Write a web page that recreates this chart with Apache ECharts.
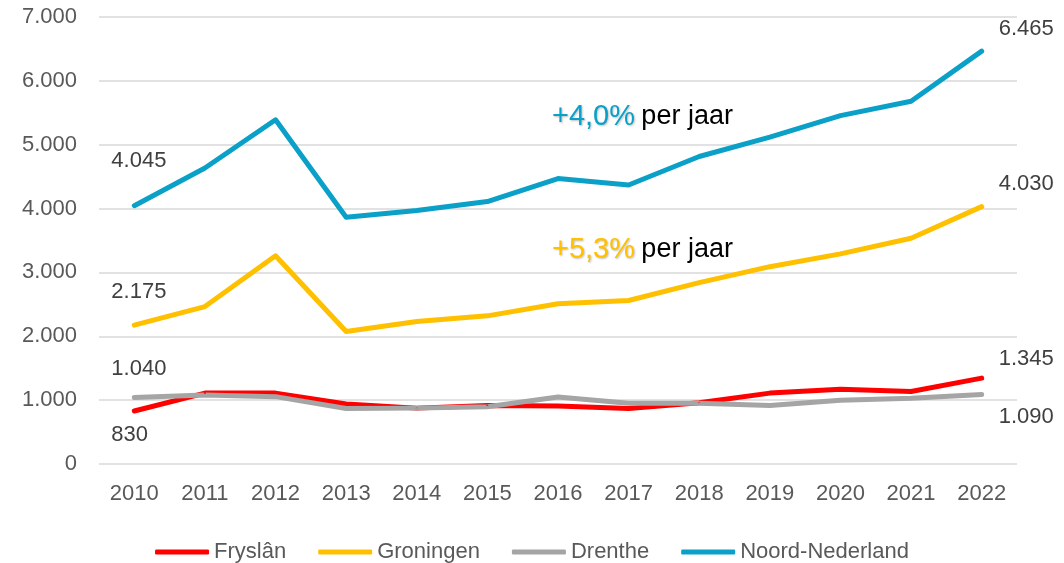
<!DOCTYPE html>
<html>
<head>
<meta charset="utf-8">
<script src="https://cdn.jsdelivr.net/npm/echarts@6/dist/echarts.min.js"></script>
<style>
  html, body { margin: 0; padding: 0; background: #fff; }
  #chart { width: 1064px; height: 563px; }
</style>
</head>
<body>
<div id="chart"></div>
<script>
var years = ['2010', '2011', '2012', '2013', '2014', '2015', '2016', '2017', '2018', '2019', '2020', '2021', '2022'];
var fryslan = [830, 1110, 1110, 940, 875, 915, 910, 870, 960, 1110, 1170, 1135, 1345];
var groningen = [2175, 2465, 3260, 2075, 2230, 2320, 2510, 2560, 2840, 3090, 3290, 3535, 4030];
var drenthe = [1040, 1080, 1055, 870, 875, 895, 1050, 950, 950, 915, 1000, 1030, 1090];
var noordNederland = [4045, 4635, 5390, 3865, 3970, 4110, 4470, 4370, 4815, 5120, 5455, 5680, 6465];
var seriesNames = ['Fryslân', 'Groningen', 'Drenthe', 'Noord-Nederland'];
var growth = ['+4,0%', '+5,3%'];

var font = 'Liberation Sans';

function fmt(v) {
  return String(v).replace(/\B(?=(\d{3})+(?!\d))/g, '.');
}

// first and last point get a label (left aligned); vertical offsets per series
function withLabels(values, firstDy, lastDy) {
  return values.map(function(v, i) {
    if (i === 0 || i === values.length - 1) {
      return {
        value: v,
        label: {
          show: true,
          position: 'inside',
          align: 'left',
          offset: i === 0 ? [-23, firstDy] : [17, lastDy]
        }
      };
    }
    return v;
  });
}

function lineSeries(name, color, data) {
  return {
    name: name,
    type: 'line',
    symbol: 'circle',
    symbolSize: 2,
    showSymbol: true,
    lineStyle: { color: color, width: 5, cap: 'round', join: 'round' },
    itemStyle: { color: color },
    label: {
      show: false,
      formatter: function(p) { return fmt(p.value); },
      color: '#404040',
      fontSize: 22,
      fontFamily: font
    },
    data: data,
    animation: false
  };
}

var option = {
  backgroundColor: '#fff',
  grid: { left: 99, right: 47, top: 17, bottom: 99 },
  xAxis: {
    type: 'category',
    data: years,
    boundaryGap: true,
    axisLine: { show: false },
    axisTick: { show: false },
    axisLabel: { color: '#595959', fontSize: 22, fontFamily: font, margin: 19 }
  },
  yAxis: {
    type: 'value',
    min: 0,
    max: 7000,
    interval: 1000,
    axisLine: { show: false },
    axisTick: { show: false },
    splitLine: { lineStyle: { color: '#d9d9d9', width: 1.5 } },
    axisLabel: {
      color: '#595959', fontSize: 22, fontFamily: font, margin: 22,
      formatter: function(v) { return fmt(v); }
    }
  },
  legend: {
    data: seriesNames,
    bottom: -5,
    left: 'center',
    icon: 'roundRect',
    itemWidth: 54,
    itemHeight: 5,
    itemGap: 32,
    textStyle: { color: '#595959', fontSize: 22, fontFamily: font }
  },
  graphic: [
    {
      type: 'text', left: 552, top: 102,
      style: {
        text: '{a|' + growth[0] + '} {b|per jaar}',
        rich: {
          a: { fill: '#0aa0c8', fontSize: 29, fontFamily: font, textShadowColor: 'rgba(0,0,0,0.25)', textShadowBlur: 2, textShadowOffsetX: 1, textShadowOffsetY: 1 },
          b: { fill: '#000', fontSize: 27, fontFamily: font, padding: [0, 0, 0, 3] }
        }
      }
    },
    {
      type: 'text', left: 552, top: 235,
      style: {
        text: '{a|' + growth[1] + '} {b|per jaar}',
        rich: {
          a: { fill: '#ffc000', fontSize: 29, fontFamily: font, textShadowColor: 'rgba(0,0,0,0.25)', textShadowBlur: 2, textShadowOffsetX: 1, textShadowOffsetY: 1 },
          b: { fill: '#000', fontSize: 27, fontFamily: font, padding: [0, 0, 0, 3] }
        }
      }
    }
  ],
  series: [
    lineSeries(seriesNames[0], '#ff0000', withLabels(fryslan, 24, -19)),
    lineSeries(seriesNames[1], '#ffc000', withLabels(groningen, -33, -23)),
    lineSeries(seriesNames[2], '#a5a5a5', withLabels(drenthe, -29, 23)),
    lineSeries(seriesNames[3], '#0aa0c8', withLabels(noordNederland, -45, -22))
  ]
};

var myChart = echarts.init(document.getElementById('chart'));
myChart.setOption(option);
</script>
</body>
</html>
